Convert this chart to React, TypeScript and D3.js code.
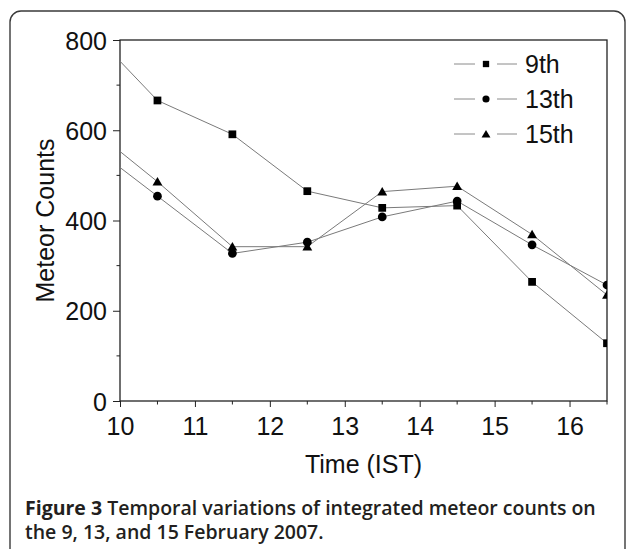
import React, { useEffect, useRef } from "react";
import * as d3 from "d3";

// hours (IST); first point sits left of the axis and is clipped
const times = [9.5, 10.5, 11.5, 12.5, 13.5, 14.5, 15.5, 16.5];
const feb9 = [840, 666, 591, 465, 428, 433, 264, 128];
const feb13 = [581, 454, 327, 352, 408, 443, 346, 257];
const feb15 = [620, 486, 342, 342, 464, 476, 369, 235];
const seriesNames = ["9th", "13th", "15th"];
const symbols = [d3.symbolSquare, d3.symbolCircle, d3.symbolTriangle];
const xTicks = [10, 11, 12, 13, 14, 15, 16];
const yTicks = [0, 200, 400, 600, 800];

const App = () => {
  const ref = useRef<SVGSVGElement>(null);

  useEffect(() => {
    document.body.style.margin = "0";
    drawChart();
    //eslint-disable-next-line
  }, []);

  function drawChart() {
    const svg = d3.select(ref.current);
    svg.selectAll("*").remove();

    const width = 627;
    const height = 549;
    const plot = { left: 120, right: 607, top: 40, bottom: 401 };
    const font = "Liberation Sans, Arial, sans-serif";

    svg.attr("width", width).attr("height", height);

    // outer panel
    svg
      .append("rect")
      .attr("x", 10)
      .attr("y", 11)
      .attr("width", 615)
      .attr("height", 570)
      .attr("rx", 11)
      .attr("fill", "none")
      .attr("stroke", "#3a3a3a")
      .attr("stroke-width", 1.4);

    const x = d3.scaleLinear().domain([10, 16.5]).range([plot.left, plot.right]);
    const y = d3.scaleLinear().domain([0, 800]).range([plot.bottom, plot.top]);

    svg
      .append("defs")
      .append("clipPath")
      .attr("id", "plotclip")
      .append("rect")
      .attr("x", plot.left)
      .attr("y", plot.top)
      .attr("width", plot.right - plot.left)
      .attr("height", plot.bottom - plot.top);

    // Add X axis
    const xAxis = svg
      .append("g")
      .attr("transform", `translate(0, ${plot.bottom})`)
      .call(d3.axisBottom(x).tickValues(xTicks).tickSize(6).tickSizeOuter(0).tickFormat(d3.format("d")));
    xAxis
      .append("g")
      .selectAll("line")
      .data(d3.range(10.5, 16.6, 1))
      .enter()
      .append("line")
      .attr("x1", (d) => x(d))
      .attr("x2", (d) => x(d))
      .attr("y1", 0)
      .attr("y2", 3.5)
      .attr("stroke", "#222");

    // Add Y axis
    const yAxis = svg
      .append("g")
      .attr("transform", `translate(${plot.left}, 0)`)
      .call(d3.axisLeft(y).tickValues(yTicks).tickSize(7).tickSizeOuter(0));
    yAxis
      .append("g")
      .selectAll("line")
      .data(d3.range(100, 800, 200))
      .enter()
      .append("line")
      .attr("y1", (d) => y(d))
      .attr("y2", (d) => y(d))
      .attr("x1", 0)
      .attr("x2", -3.5)
      .attr("stroke", "#222");

    [xAxis, yAxis].forEach((g) => {
      g.select(".domain").remove();
      g.selectAll(".tick line").attr("stroke", "#222");
      g.selectAll("text").attr("font-family", font).attr("font-size", 25).attr("fill", "#111");
    });
    xAxis.selectAll(".tick text").attr("dy", "1.05em").attr("y", 8);
    yAxis.selectAll(".tick text").attr("x", -13).attr("dy", "0.36em");

    // frame
    svg
      .append("rect")
      .attr("x", plot.left)
      .attr("y", plot.top)
      .attr("width", plot.right - plot.left)
      .attr("height", plot.bottom - plot.top)
      .attr("fill", "none")
      .attr("stroke", "#222")
      .attr("stroke-width", 1.3);

    const allSeries = [feb9, feb13, feb15];
    const line = d3
      .line<number>()
      .x((d, i) => x(times[i]))
      .y((d) => y(d));

    const g = svg.append("g").attr("clip-path", "url(#plotclip)");
    allSeries.forEach((vals) => {
      g.append("path")
        .datum(vals)
        .attr("d", line)
        .attr("fill", "none")
        .attr("stroke", "#7a7a7a")
        .attr("stroke-width", 1);
    });
    allSeries.forEach((vals, k) => {
      const sym = d3.symbol().type(symbols[k]).size(k === 2 ? 42 : 60);
      g.append("g")
        .selectAll("path")
        .data(vals)
        .enter()
        .append("path")
        .attr("d", sym)
        .attr("transform", (d, i) => `translate(${x(times[i])},${y(d) + (k === 2 ? 1 : 0)})`)
        .attr("fill", "#000");
    });

    // legend
    const legend = svg.append("g").attr("transform", "translate(454, 64)");
    seriesNames.forEach((name, k) => {
      const row = legend.append("g").attr("transform", `translate(0, ${k * 35})`);
      row.append("line").attr("x1", 0).attr("x2", 21).attr("stroke", "#8a8a8a");
      row.append("line").attr("x1", 43).attr("x2", 63).attr("stroke", "#8a8a8a");
      row
        .append("path")
        .attr("d", d3.symbol().type(symbols[k]).size(k === 2 ? 34 : 40)())
        .attr("transform", `translate(32, ${k === 2 ? 1 : 0})`)
        .attr("fill", "#000");
      row
        .append("text")
        .attr("x", 71)
        .attr("dy", "0.36em")
        .attr("font-family", font)
        .attr("font-size", 25)
        .attr("fill", "#111")
        .text(name);
    });

    // axis titles
    svg
      .append("text")
      .attr("x", (plot.left + plot.right) / 2)
      .attr("y", 473)
      .attr("text-anchor", "middle")
      .attr("font-family", font)
      .attr("font-size", 25)
      .attr("fill", "#111")
      .text("Time (IST)");
    svg
      .append("text")
      .attr("transform", `translate(54, ${(plot.top + plot.bottom) / 2}) rotate(-90)`)
      .attr("text-anchor", "middle")
      .attr("font-family", font)
      .attr("font-size", 25)
      .attr("fill", "#111")
      .text("Meteor Counts");

    // caption
    const cap = svg
      .append("text")
      .attr("font-family", "Open Sans, Noto Sans, sans-serif")
      .attr("font-size", 19.5)
      .attr("font-weight", 600)
      .attr("fill", "#231f20");
    const l1 = cap.append("tspan").attr("x", 25).attr("y", 515);
    l1.append("tspan").attr("font-weight", 700).text("Figure 3");
    l1.append("tspan").text(" Temporal variations of integrated meteor counts on");
    cap.append("tspan").attr("x", 25).attr("y", 539).text("the 9, 13, and 15 February 2007.");
  }

  return <svg ref={ref} style={{ display: "block" }}></svg>;
};

export default App;
